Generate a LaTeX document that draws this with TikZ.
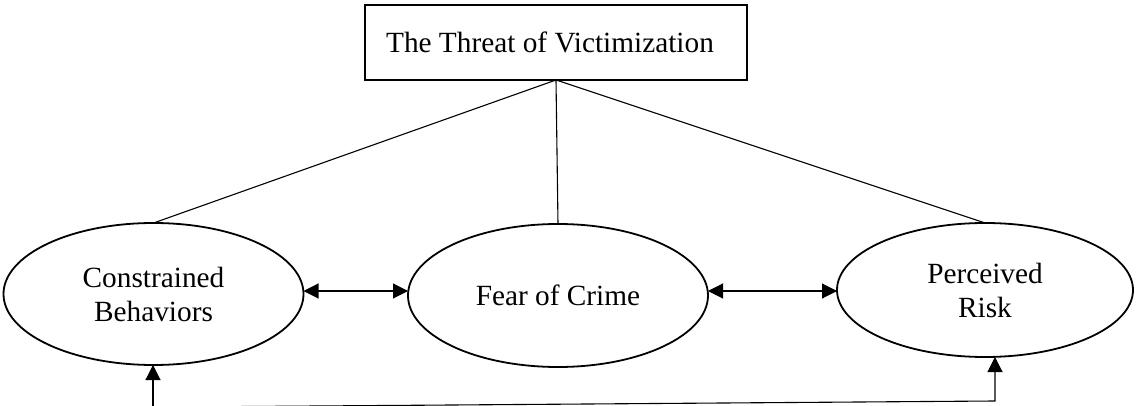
\documentclass[tikz,border=0pt]{standalone}
\usepackage{fontspec}
\setmainfont{Liberation Serif}
\usetikzlibrary{arrows.meta,shapes.geometric}
\begin{document}
\begin{tikzpicture}[x=1pt,y=-1pt,
  conn/.style={line width=1.1pt,draw=black},
  arr/.style={conn,-{Triangle[length=15pt,width=15pt]}},
  dbl/.style={conn,{Triangle[length=15pt,width=15pt]}-{Triangle[length=15pt,width=15pt]}},
  oval/.style={ellipse,draw=black,line width=1.8pt,inner sep=0pt,outer sep=0pt,align=center,
    font=\fontsize{29.3}{34}\selectfont},
  topbox/.style={rectangle,draw=black,line width=2.4pt,inner sep=0pt,outer sep=0pt,
    font=\fontsize{29.3}{34}\selectfont}]
\useasboundingbox (0,0) rectangle (1136,406);
\clip (0,0) rectangle (1136,406);
\node[topbox,minimum width=382pt,minimum height=75pt] (threat) at (556,42.5) {\kern-12pt The Threat of Victimization};
\node[oval,minimum width=300pt,minimum height=142pt] (cb) at (153.5,294) {Constrained\\Behaviors};
\node[oval,minimum width=300pt,minimum height=143pt] (fc) at (558,295.5) {Fear of Crime};
\node[oval,minimum width=296pt,minimum height=134pt] (pr) at (985,290) {Perceived\\Risk};
\draw[conn] (threat.south) -- (cb.north);
\draw[conn] (threat.south) -- (fc.north);
\draw[conn] (threat.south) -- (pr.north);
\draw[dbl] (cb.east |- 0,291) -- (fc.west |- 0,291);
\draw[dbl] (fc.east |- 0,291) -- (pr.west |- 0,291);
\coordinate (c) at (153,407.2);
\coordinate (d) at (995,401);
\draw[arr] (c) -- (cb.south -| c);
\draw[arr] (c) -- (d) -- (d |- pr.south);
\end{tikzpicture}
\end{document}
